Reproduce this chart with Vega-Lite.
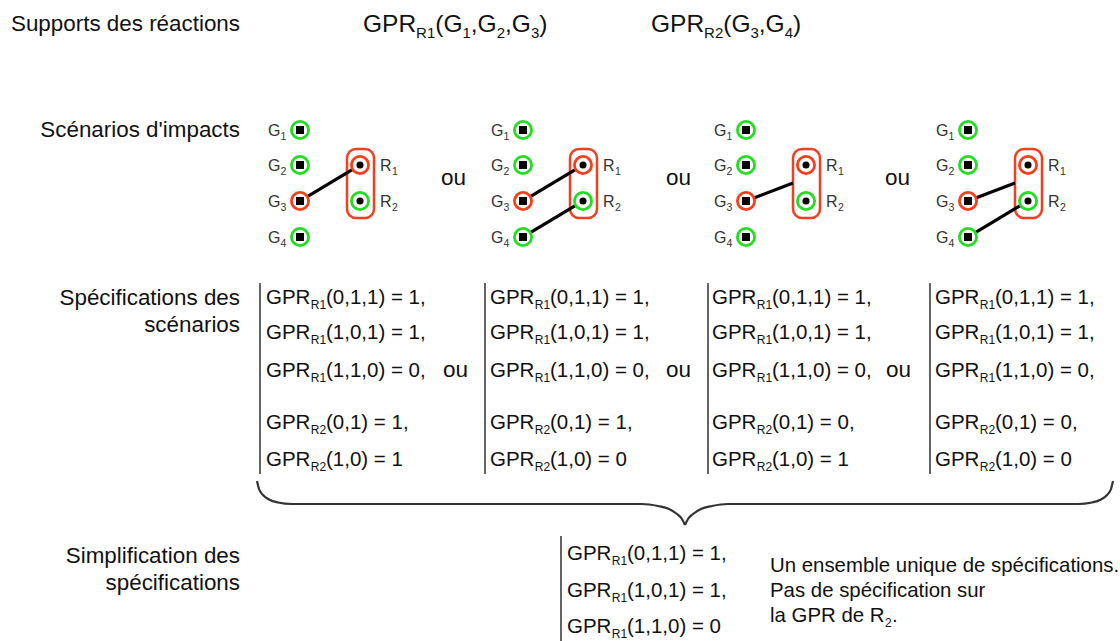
{
  "$schema": "https://vega.github.io/schema/vega-lite/v6.json",
  "width": 1120,
  "height": 641,
  "autosize": {"type": "none"},
  "padding": 0,
  "background": "white",
  "config": {"view": {"stroke": null}, "text": {"font": "Liberation Sans", "color": "#111111"}},
  "datasets": {
    "labels": [
      {"x": 240, "y": 31, "t": "Supports des réactions"},
      {"x": 240, "y": 137, "t": "Scénarios d'impacts"},
      {"x": 240, "y": 305, "t": "Spécifications des"},
      {"x": 240, "y": 332, "t": "scénarios"},
      {"x": 240, "y": 563, "t": "Simplification des"},
      {"x": 240, "y": 590, "t": "spécifications"}
    ],
    "ou": [
      {"x": 441, "y": 185}, {"x": 666, "y": 185}, {"x": 885, "y": 185},
      {"x": 443, "y": 377}, {"x": 666, "y": 377}, {"x": 886, "y": 377}
    ],
    "titres": [
      {"x": 363, "y": 32, "t": "GPR", "r": "m"}, {"x": 416.1, "y": 32, "t": "R1", "r": "s"},
      {"x": 435.3, "y": 32, "t": "(G", "r": "m"}, {"x": 462.5, "y": 32, "t": "1", "r": "s"},
      {"x": 470.8, "y": 32, "t": ",G", "r": "m"}, {"x": 496.7, "y": 32, "t": "2", "r": "s"},
      {"x": 505, "y": 32, "t": ",G", "r": "m"}, {"x": 530.9, "y": 32, "t": "3", "r": "s"},
      {"x": 539.2, "y": 32, "t": ")", "r": "m"},
      {"x": 651, "y": 32, "t": "GPR", "r": "m"}, {"x": 704.1, "y": 32, "t": "R2", "r": "s"},
      {"x": 723.3, "y": 32, "t": "(G", "r": "m"}, {"x": 750.5, "y": 32, "t": "3", "r": "s"},
      {"x": 758.8, "y": 32, "t": ",G", "r": "m"}, {"x": 784.7, "y": 32, "t": "4", "r": "s"},
      {"x": 793, "y": 32, "t": ")", "r": "m"}
    ],
    "para": [
      {"x": 770, "y": 572, "t": "Un ensemble unique de spécifications.", "r": "m"},
      {"x": 770, "y": 597, "t": "Pas de spécification sur", "r": "m"},
      {"x": 770, "y": 622, "t": "la GPR de R", "r": "m"},
      {"x": 885, "y": 622, "t": "2", "r": "s"},
      {"x": 892, "y": 622, "t": ".", "r": "m"}
    ],
    "etiq": [
      {"x": 268, "y": 135.6, "t": "G", "r": "m"}, {"x": 280.5, "y": 135.6, "t": "1", "r": "s"},
      {"x": 268, "y": 170.6, "t": "G", "r": "m"}, {"x": 280.5, "y": 170.6, "t": "2", "r": "s"},
      {"x": 268, "y": 206.6, "t": "G", "r": "m"}, {"x": 280.5, "y": 206.6, "t": "3", "r": "s"},
      {"x": 268, "y": 242.6, "t": "G", "r": "m"}, {"x": 280.5, "y": 242.6, "t": "4", "r": "s"},
      {"x": 380, "y": 170.6, "t": "R", "r": "m"}, {"x": 392, "y": 170.6, "t": "1", "r": "s"},
      {"x": 380, "y": 206.6, "t": "R", "r": "m"}, {"x": 392, "y": 206.6, "t": "2", "r": "s"},
      {"x": 491, "y": 135.6, "t": "G", "r": "m"}, {"x": 503.5, "y": 135.6, "t": "1", "r": "s"},
      {"x": 491, "y": 170.6, "t": "G", "r": "m"}, {"x": 503.5, "y": 170.6, "t": "2", "r": "s"},
      {"x": 491, "y": 206.6, "t": "G", "r": "m"}, {"x": 503.5, "y": 206.6, "t": "3", "r": "s"},
      {"x": 491, "y": 242.6, "t": "G", "r": "m"}, {"x": 503.5, "y": 242.6, "t": "4", "r": "s"},
      {"x": 603, "y": 170.6, "t": "R", "r": "m"}, {"x": 615, "y": 170.6, "t": "1", "r": "s"},
      {"x": 603, "y": 206.6, "t": "R", "r": "m"}, {"x": 615, "y": 206.6, "t": "2", "r": "s"},
      {"x": 714, "y": 135.6, "t": "G", "r": "m"}, {"x": 726.5, "y": 135.6, "t": "1", "r": "s"},
      {"x": 714, "y": 170.6, "t": "G", "r": "m"}, {"x": 726.5, "y": 170.6, "t": "2", "r": "s"},
      {"x": 714, "y": 206.6, "t": "G", "r": "m"}, {"x": 726.5, "y": 206.6, "t": "3", "r": "s"},
      {"x": 714, "y": 242.6, "t": "G", "r": "m"}, {"x": 726.5, "y": 242.6, "t": "4", "r": "s"},
      {"x": 826, "y": 170.6, "t": "R", "r": "m"}, {"x": 838, "y": 170.6, "t": "1", "r": "s"},
      {"x": 826, "y": 206.6, "t": "R", "r": "m"}, {"x": 838, "y": 206.6, "t": "2", "r": "s"},
      {"x": 936, "y": 135.6, "t": "G", "r": "m"}, {"x": 948.5, "y": 135.6, "t": "1", "r": "s"},
      {"x": 936, "y": 170.6, "t": "G", "r": "m"}, {"x": 948.5, "y": 170.6, "t": "2", "r": "s"},
      {"x": 936, "y": 206.6, "t": "G", "r": "m"}, {"x": 948.5, "y": 206.6, "t": "3", "r": "s"},
      {"x": 936, "y": 242.6, "t": "G", "r": "m"}, {"x": 948.5, "y": 242.6, "t": "4", "r": "s"},
      {"x": 1048, "y": 170.6, "t": "R", "r": "m"}, {"x": 1060, "y": 170.6, "t": "1", "r": "s"},
      {"x": 1048, "y": 206.6, "t": "R", "r": "m"}, {"x": 1060, "y": 206.6, "t": "2", "r": "s"}
    ],
    "noeuds": [
      {"k": "G", "x": 300, "y": 130, "e": "non"}, {"k": "G", "x": 300, "y": 165, "e": "non"},
      {"k": "G", "x": 300, "y": 201, "e": "imp"}, {"k": "G", "x": 300, "y": 237, "e": "non"},
      {"k": "R", "x": 360, "y": 165, "e": "imp"}, {"k": "R", "x": 360, "y": 201, "e": "non"},
      {"k": "G", "x": 523, "y": 130, "e": "non"}, {"k": "G", "x": 523, "y": 165, "e": "non"},
      {"k": "G", "x": 523, "y": 201, "e": "imp"}, {"k": "G", "x": 523, "y": 237, "e": "non"},
      {"k": "R", "x": 583, "y": 165, "e": "imp"}, {"k": "R", "x": 583, "y": 201, "e": "non"},
      {"k": "G", "x": 746, "y": 130, "e": "non"}, {"k": "G", "x": 746, "y": 165, "e": "non"},
      {"k": "G", "x": 746, "y": 201, "e": "imp"}, {"k": "G", "x": 746, "y": 237, "e": "non"},
      {"k": "R", "x": 806, "y": 165, "e": "imp"}, {"k": "R", "x": 806, "y": 201, "e": "non"},
      {"k": "G", "x": 968, "y": 130, "e": "non"}, {"k": "G", "x": 968, "y": 165, "e": "non"},
      {"k": "G", "x": 968, "y": 201, "e": "imp"}, {"k": "G", "x": 968, "y": 237, "e": "non"},
      {"k": "R", "x": 1028, "y": 165, "e": "imp"}, {"k": "R", "x": 1028, "y": 201, "e": "non"}
    ],
    "groupes": [
      {"x": 347, "x2": 374, "y": 149, "y2": 218},
      {"x": 570, "x2": 597, "y": 149, "y2": 218},
      {"x": 793, "x2": 820, "y": 149, "y2": 218},
      {"x": 1015, "x2": 1042, "y": 149, "y2": 218}
    ],
    "aretes": [
      {"x": 307.7, "y": 196.4, "x2": 352.3, "y2": 169.6},
      {"x": 530.7, "y": 196.4, "x2": 575.3, "y2": 169.6},
      {"x": 530.7, "y": 232.4, "x2": 575.3, "y2": 205.6},
      {"x": 754.4, "y": 197.8, "x2": 793, "y2": 183},
      {"x": 976.4, "y": 197.8, "x2": 1015, "y2": 183},
      {"x": 975.7, "y": 232.4, "x2": 1020.3, "y2": 205.6}
    ],
    "barres": [
      {"x": 260, "y": 283, "y2": 474},
      {"x": 485, "y": 283, "y2": 474},
      {"x": 708, "y": 283, "y2": 474},
      {"x": 930, "y": 283, "y2": 474},
      {"x": 561, "y": 536, "y2": 641}
    ],
    "formules": [
      {"x": 266, "y": 304, "s": "R1", "t": "(0,1,1) = 1,"},
      {"x": 266, "y": 339, "s": "R1", "t": "(1,0,1) = 1,"},
      {"x": 266, "y": 377, "s": "R1", "t": "(1,1,0) = 0,"},
      {"x": 266, "y": 429, "s": "R2", "t": "(0,1) = 1,"},
      {"x": 266, "y": 466, "s": "R2", "t": "(1,0) = 1"},
      {"x": 490, "y": 304, "s": "R1", "t": "(0,1,1) = 1,"},
      {"x": 490, "y": 339, "s": "R1", "t": "(1,0,1) = 1,"},
      {"x": 490, "y": 377, "s": "R1", "t": "(1,1,0) = 0,"},
      {"x": 490, "y": 429, "s": "R2", "t": "(0,1) = 1,"},
      {"x": 490, "y": 466, "s": "R2", "t": "(1,0) = 0"},
      {"x": 712, "y": 304, "s": "R1", "t": "(0,1,1) = 1,"},
      {"x": 712, "y": 339, "s": "R1", "t": "(1,0,1) = 1,"},
      {"x": 712, "y": 377, "s": "R1", "t": "(1,1,0) = 0,"},
      {"x": 712, "y": 429, "s": "R2", "t": "(0,1) = 0,"},
      {"x": 712, "y": 466, "s": "R2", "t": "(1,0) = 1"},
      {"x": 935, "y": 304, "s": "R1", "t": "(0,1,1) = 1,"},
      {"x": 935, "y": 339, "s": "R1", "t": "(1,0,1) = 1,"},
      {"x": 935, "y": 377, "s": "R1", "t": "(1,1,0) = 0,"},
      {"x": 935, "y": 429, "s": "R2", "t": "(0,1) = 0,"},
      {"x": 935, "y": 466, "s": "R2", "t": "(1,0) = 0"},
      {"x": 567, "y": 560, "s": "R1", "t": "(0,1,1) = 1,"},
      {"x": 567, "y": 597, "s": "R1", "t": "(1,0,1) = 1,"},
      {"x": 567, "y": 633, "s": "R1", "t": "(1,1,0) = 0"}
    ],
    "accolade": [
      {"c": "g", "x": 257, "y": 481}, {"c": "g", "x": 259, "y": 489}, {"c": "g", "x": 263, "y": 495},
      {"c": "g", "x": 269, "y": 499.5}, {"c": "g", "x": 278, "y": 502.5}, {"c": "g", "x": 292, "y": 504},
      {"c": "g", "x": 642, "y": 504}, {"c": "g", "x": 658, "y": 506}, {"c": "g", "x": 669, "y": 509},
      {"c": "g", "x": 677, "y": 514}, {"c": "g", "x": 682, "y": 519}, {"c": "g", "x": 685, "y": 525},
      {"c": "d", "x": 685, "y": 525}, {"c": "d", "x": 688, "y": 519}, {"c": "d", "x": 693, "y": 514},
      {"c": "d", "x": 701, "y": 509}, {"c": "d", "x": 712, "y": 506}, {"c": "d", "x": 728, "y": 504},
      {"c": "d", "x": 1078, "y": 504}, {"c": "d", "x": 1092, "y": 502.5}, {"c": "d", "x": 1101, "y": 499.5},
      {"c": "d", "x": 1107, "y": 495}, {"c": "d", "x": 1111, "y": 489}, {"c": "d", "x": 1113, "y": 481}
    ]
  },
  "layer": [
    {
      "data": {"name": "accolade"},
      "mark": {"type": "line", "interpolate": "monotone", "color": "#333333", "strokeWidth": 2.2},
      "encoding": {
        "x": {"field": "x", "type": "quantitative", "scale": {"domain": [0, 1120], "nice": false, "zero": false}, "axis": null},
        "y": {"field": "y", "type": "quantitative", "scale": {"domain": [0, 641], "nice": false, "zero": false, "reverse": true}, "axis": null},
        "detail": {"field": "c"}
      }
    },
    {
      "data": {"name": "barres"},
      "mark": {"type": "rule", "color": "#111111", "strokeWidth": 1.3},
      "encoding": {
        "x": {"field": "x", "type": "quantitative", "axis": null},
        "y": {"field": "y", "type": "quantitative", "axis": null},
        "y2": {"field": "y2"}
      }
    },
    {
      "data": {"name": "groupes"},
      "mark": {"type": "rect", "fill": null, "fillOpacity": 0, "stroke": "#f2401e", "strokeWidth": 2.5, "cornerRadius": 9},
      "encoding": {
        "x": {"field": "x", "type": "quantitative", "axis": null},
        "x2": {"field": "x2"},
        "y": {"field": "y", "type": "quantitative", "axis": null},
        "y2": {"field": "y2"}
      }
    },
    {
      "data": {"name": "aretes"},
      "mark": {"type": "rule", "color": "#000000", "strokeWidth": 3.2},
      "encoding": {
        "x": {"field": "x", "type": "quantitative", "axis": null},
        "x2": {"field": "x2"},
        "y": {"field": "y", "type": "quantitative", "axis": null},
        "y2": {"field": "y2"}
      }
    },
    {
      "data": {"name": "noeuds"},
      "mark": {"type": "point", "shape": "circle", "filled": false, "size": 295, "strokeWidth": 2.8, "opacity": 1},
      "encoding": {
        "x": {"field": "x", "type": "quantitative", "axis": null},
        "y": {"field": "y", "type": "quantitative", "axis": null},
        "color": {"field": "e", "type": "nominal", "scale": {"domain": ["imp", "non"], "range": ["#f2401e", "#22dd22"]}, "legend": null}
      }
    },
    {
      "data": {"name": "noeuds"},
      "transform": [{"filter": "datum.k === 'G'"}],
      "mark": {"type": "point", "shape": "square", "filled": true, "size": 64, "color": "#000000", "opacity": 1},
      "encoding": {
        "x": {"field": "x", "type": "quantitative", "axis": null},
        "y": {"field": "y", "type": "quantitative", "axis": null}
      }
    },
    {
      "data": {"name": "noeuds"},
      "transform": [{"filter": "datum.k === 'R'"}],
      "mark": {"type": "point", "shape": "circle", "filled": true, "size": 50, "color": "#000000", "opacity": 1},
      "encoding": {
        "x": {"field": "x", "type": "quantitative", "axis": null},
        "y": {"field": "y", "type": "quantitative", "axis": null}
      }
    },
    {
      "data": {"name": "labels"},
      "mark": {"type": "text", "align": "right", "baseline": "alphabetic", "fontSize": 22.4},
      "encoding": {
        "x": {"field": "x", "type": "quantitative", "axis": null},
        "y": {"field": "y", "type": "quantitative", "axis": null},
        "text": {"field": "t"}
      }
    },
    {
      "data": {"name": "ou"},
      "mark": {"type": "text", "align": "left", "baseline": "alphabetic", "fontSize": 22.5, "text": "ou"},
      "encoding": {
        "x": {"field": "x", "type": "quantitative", "axis": null},
        "y": {"field": "y", "type": "quantitative", "axis": null}
      }
    },
    {
      "data": {"name": "titres"},
      "transform": [{"filter": "datum.r === 'm'"}],
      "mark": {"type": "text", "align": "left", "baseline": "alphabetic", "fontSize": 24.5},
      "encoding": {
        "x": {"field": "x", "type": "quantitative", "axis": null},
        "y": {"field": "y", "type": "quantitative", "axis": null},
        "text": {"field": "t"}
      }
    },
    {
      "data": {"name": "titres"},
      "transform": [{"filter": "datum.r === 's'"}],
      "mark": {"type": "text", "align": "left", "baseline": "alphabetic", "fontSize": 15, "dy": 5.5},
      "encoding": {
        "x": {"field": "x", "type": "quantitative", "axis": null},
        "y": {"field": "y", "type": "quantitative", "axis": null},
        "text": {"field": "t"}
      }
    },
    {
      "data": {"name": "para"},
      "transform": [{"filter": "datum.r === 'm'"}],
      "mark": {"type": "text", "align": "left", "baseline": "alphabetic", "fontSize": 20.4},
      "encoding": {
        "x": {"field": "x", "type": "quantitative", "axis": null},
        "y": {"field": "y", "type": "quantitative", "axis": null},
        "text": {"field": "t"}
      }
    },
    {
      "data": {"name": "para"},
      "transform": [{"filter": "datum.r === 's'"}],
      "mark": {"type": "text", "align": "left", "baseline": "alphabetic", "fontSize": 12, "dy": 4.5},
      "encoding": {
        "x": {"field": "x", "type": "quantitative", "axis": null},
        "y": {"field": "y", "type": "quantitative", "axis": null},
        "text": {"field": "t"}
      }
    },
    {
      "data": {"name": "etiq"},
      "transform": [{"filter": "datum.r === 'm'"}],
      "mark": {"type": "text", "align": "left", "baseline": "alphabetic", "fontSize": 16, "color": "#333333"},
      "encoding": {
        "x": {"field": "x", "type": "quantitative", "axis": null},
        "y": {"field": "y", "type": "quantitative", "axis": null},
        "text": {"field": "t"}
      }
    },
    {
      "data": {"name": "etiq"},
      "transform": [{"filter": "datum.r === 's'"}],
      "mark": {"type": "text", "align": "left", "baseline": "alphabetic", "fontSize": 10.5, "dy": 4, "color": "#333333"},
      "encoding": {
        "x": {"field": "x", "type": "quantitative", "axis": null},
        "y": {"field": "y", "type": "quantitative", "axis": null},
        "text": {"field": "t"}
      }
    },
    {
      "data": {"name": "formules"},
      "mark": {"type": "text", "align": "left", "baseline": "alphabetic", "fontSize": 20.5, "text": "GPR"},
      "encoding": {
        "x": {"field": "x", "type": "quantitative", "axis": null},
        "y": {"field": "y", "type": "quantitative", "axis": null}
      }
    },
    {
      "data": {"name": "formules"},
      "mark": {"type": "text", "align": "left", "baseline": "alphabetic", "fontSize": 12, "dx": 44.8, "dy": 4.5},
      "encoding": {
        "x": {"field": "x", "type": "quantitative", "axis": null},
        "y": {"field": "y", "type": "quantitative", "axis": null},
        "text": {"field": "s"}
      }
    },
    {
      "data": {"name": "formules"},
      "mark": {"type": "text", "align": "left", "baseline": "alphabetic", "fontSize": 20.5, "dx": 60},
      "encoding": {
        "x": {"field": "x", "type": "quantitative", "axis": null},
        "y": {"field": "y", "type": "quantitative", "axis": null},
        "text": {"field": "t"}
      }
    }
  ]
}
